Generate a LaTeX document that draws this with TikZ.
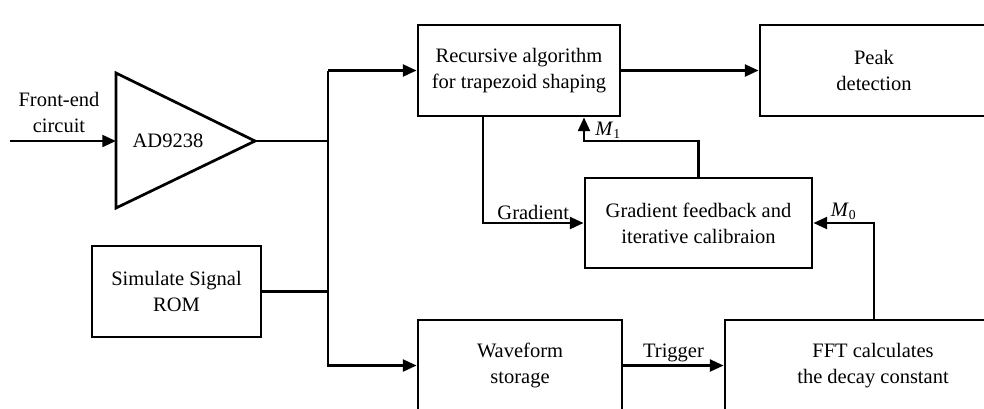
\documentclass[tikz,border=0pt]{standalone}
\usepackage{fontspec}
\setmainfont{Liberation Serif}
\usetikzlibrary{arrows.meta,calc}

\begin{document}
\begin{tikzpicture}[>={Triangle[length=7pt,width=6pt]}, line width=1.4pt,
    block/.style={draw, align=center, inner sep=0pt,
                  minimum height=1.638cm, font=\fontsize{10.5}{13.3}\selectfont},
    lbl/.style={inner sep=1pt, align=center, font=\fontsize{10.5}{13.3}\selectfont}]

    % 1. Frame of the picture (the boxes at the border are cut off)
    \useasboundingbox (0,0) rectangle (17.712,-7.344);
    \clip (0,0) rectangle (17.712,-7.344);

    % 2. Blocks
    \node[block, minimum width=3.636cm] (trap) at (9.342,-1.269)
        {Recursive algorithm\\for trapezoid shaping};
    \node[block, minimum width=4.104cm] (peak) at (15.732,-1.269)
        {Peak\\detection};
    \node[block, minimum width=4.086cm, minimum height=1.62cm] (grad) at (12.573,-4.014)
        {Gradient feedback and\\iterative calibraion};
    \node[block, minimum width=3.042cm] (rom) at (3.177,-5.247)
        {Simulate Signal\\ROM};
    \node[block, minimum width=3.672cm] (wave) at (9.36,-6.579)
        {Waveform\\storage};
    \node[block, minimum width=5.328cm] (fft) at (15.714,-6.579)
        {FFT calculates\\the decay constant};

    % 3. The ADC drawn as a triangle
    \coordinate (ampTop) at (2.088,-1.314);
    \coordinate (ampBot) at (2.088,-3.744);
    \coordinate (ampOut) at (4.59,-2.538);
    \coordinate (ampIn) at (2.088,-2.538);
    \draw (ampTop) -- (ampOut) -- (ampBot) -- cycle;
    \node[lbl] (adc) at (3.024,-2.538) {AD9238};

    % 4. Input from the front-end circuit
    \coordinate (src) at (0.18,-2.538);
    \draw[->] (src) -- (ampIn);
    \node[lbl] (front) at (1.062,-2.016) {Front-end\\circuit};

    % 5. Bus from ADC and ROM to the two processing branches
    \coordinate (busTop) at (5.904,-1.269);
    \coordinate (busBot) at (5.904,-6.579);
    \draw (ampOut) -- (ampOut -| busTop);
    \draw (rom.east) -- (rom.east -| busTop);
    \draw[->] (busTop) |- (trap.west);
    \draw[->] (busTop) -- (busBot) -- (wave.west);

    % 6. Main chain
    \draw[->] (trap.east) -- (peak.west);
    \draw[->] (wave.east) -- node[lbl, above] (trig) {Trigger} (fft.west);

    % 7. Feedback loop
    \coordinate (gradOut) at (8.694,-1.269 |- trap.south);
    \draw[->] (gradOut) |- node[lbl, pos=0.75, above] (gr) {Gradient} (grad.west);

    \coordinate (mOneIn) at (10.512,-1.269 |- trap.south);
    \coordinate (mOneTurn) at (10.512,-2.538);
    \draw[->] (grad.north) |- (mOneTurn) -- (mOneIn);
    \node[lbl] (mone) at (10.95,-2.34) {\textit{M}\textsubscript{\scriptsize 1}};

    \coordinate (fftUp) at (15.732,-1.269 |- fft.north);
    \draw[->] (fftUp) |- node[lbl, pos=0.75, above] (mzero) {\textit{M}\textsubscript{\scriptsize 0}} (grad.east);

\end{tikzpicture}
\end{document}
